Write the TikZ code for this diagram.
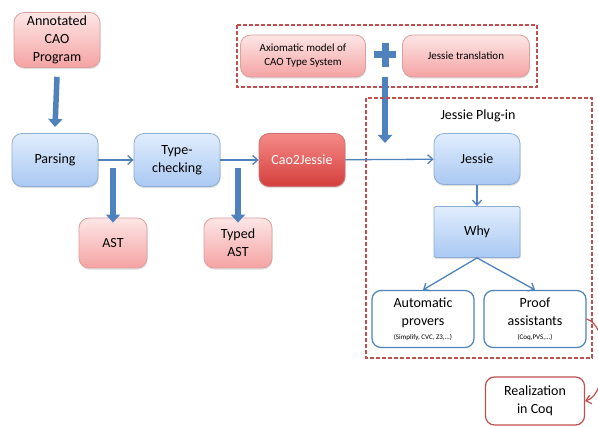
\documentclass[tikz,border=0pt]{standalone}
\usepackage{fontspec}
\setmainfont{Carlito}
\usetikzlibrary{arrows.meta,shadows}
\definecolor{arrowblue}{HTML}{4F81BD}
\definecolor{boxred}{HTML}{C0504D}
\definecolor{bluetop}{HTML}{E1EDFD}
\definecolor{bluebot}{HTML}{A9C8F2}
\definecolor{pinktop}{HTML}{FDE6E6}
\definecolor{pinkbot}{HTML}{F5A3A3}
\definecolor{hottop}{HTML}{F58A88}
\definecolor{hotbot}{HTML}{D43F3C}
\newcommand\smallnote[1]{{\fontsize{7}{8}\selectfont #1}}
\tikzset{
  vshade/.style 2 args = { path picture={\shade[top color=#1, bottom color=#2]
                      (path picture bounding box.north west) rectangle (path picture bounding box.south east);} },
  softshadow/.style = { drop shadow={opacity=0.25, shadow xshift=0.6pt, shadow yshift=-1.6pt} },
  bluebox/.style  = { draw=arrowblue!65, line width=0.8pt, vshade={bluetop}{bluebot}, softshadow,
                      minimum width=86pt, minimum height=53pt, align=center, font=\fontsize{14}{18}\selectfont,
                      rounded corners=10pt },
  pinkbox/.style  = { draw=boxred!55, line width=0.8pt, vshade={pinktop}{pinkbot}, softshadow,
                      minimum width=86pt, minimum height=53pt, align=center, font=\fontsize{14}{18}\selectfont,
                      rounded corners=10pt },
  hotbox/.style   = { draw=boxred!80, line width=0.8pt, vshade={hottop}{hotbot}, softshadow, text=white,
                      minimum width=86pt, minimum height=53pt, align=center, font=\fontsize{14}{18}\selectfont,
                      rounded corners=10pt },
  openbox/.style  = { draw=arrowblue, line width=1.2pt, rounded corners=9pt, fill=white,
                      minimum width=102pt, minimum height=57pt, align=center, font=\fontsize{14}{18}\selectfont },
  fat/.style      = { draw=arrowblue, line width=5.5pt, -{Triangle[width=14pt,length=8pt]} },
  thin/.style     = { draw=arrowblue, line width=1.3pt, -{Straight Barb[length=5pt,width=9pt]} },
  plugin/.style   = { draw=boxred, line width=1.2pt, dash pattern=on 4pt off 2pt }
}

\begin{document}
\begin{tikzpicture}[x=1pt,y=-1pt]
    \useasboundingbox (0,0) rectangle (598,427);

    % the pipeline
    \node[pinkbox] (annot) at (57,40) {Annotated\\CAO\\Program};
    \node[bluebox] (parse) at (55,160) {Parsing};
    \node[bluebox] (tcheck) at (177,160) {Type-\\checking};
    \node[hotbox] (cao) at (302,160) {Cao2Jessie};
    \node[pinkbox, minimum width=68pt, minimum height=50pt] (ast) at (113,243) {AST};
    \node[pinkbox, minimum width=68pt, minimum height=50pt] (tast) at (238,243) {Typed\\AST};

    \draw[fat] (annot.south) ++(0,9) coordinate (a1) -- (parse.north |- 0,127) coordinate (a2);
    \draw[fat] (ast.north) ++(0,-50) coordinate (b1) -- ([yshift=-5pt]ast.north);
    \draw[fat] (tast.north) ++(0,-50) coordinate (c1) -- ([yshift=-5pt]tast.north);
    \draw[thin] (parse) -- (tcheck);
    \draw[thin] (tcheck) -- (cao);

    % what goes into the plug-in
    \draw[plugin] (237,25) rectangle (537,87);
    \node[pinkbox, minimum width=125pt, minimum height=42pt, font=\fontsize{11}{14}\selectfont] (axiom) at (303,56)
        {Axiomatic model of\\CAO Type System};
    \node[pinkbox, minimum width=127pt, minimum height=42pt, font=\fontsize{11}{14}\selectfont] (trans) at (466,56)
        {Jessie translation};
    \coordinate (plus) at (385,55);
    \fill[arrowblue] (plus) ++(-11,-3.5) rectangle ++(22,7);
    \fill[arrowblue] (plus) ++(-3.5,-12) rectangle ++(7,24);
    \draw[fat] (plus) ++(0,22) -- ++(0,66) coordinate (p1);

    % the plug-in
    \draw[plugin] (366,98) rectangle (592,358);
    \node[font=\fontsize{14}{18}\selectfont] (plabel) at (478,116) {Jessie Plug-in};
    \node[bluebox, minimum height=51pt] (jessie) at (477,159) {Jessie};
    \node[bluebox, minimum height=51pt, rounded corners=1.5pt] (why) at (477,232) {Why};
    \node[openbox] (auto) at (423,319) {Automatic\\provers\\[-4pt]\smallnote{(Simplify, CVC, Z3,...)}};
    \node[openbox] (proof) at (535,319) {Proof\\assistants\\[-4pt]\smallnote{(Coq,PVS,...)}};

    \draw[thin] (cao) -- (jessie);
    \draw[thin] (jessie) -- (why);
    \draw[thin] (why.south) -- (auto.north);
    \draw[thin] (why.south) -- (proof.north);

    \node[openbox, draw=boxred, minimum width=99pt, minimum height=48pt] (real) at (535,401) {Realization\\in Coq};
    \draw[draw=boxred, line width=1.2pt, -{Straight Barb[length=5pt,width=9pt]}]
        (proof.east) to[out=-15, in=15, looseness=0.75] (real.east);
\end{tikzpicture}
\end{document}
